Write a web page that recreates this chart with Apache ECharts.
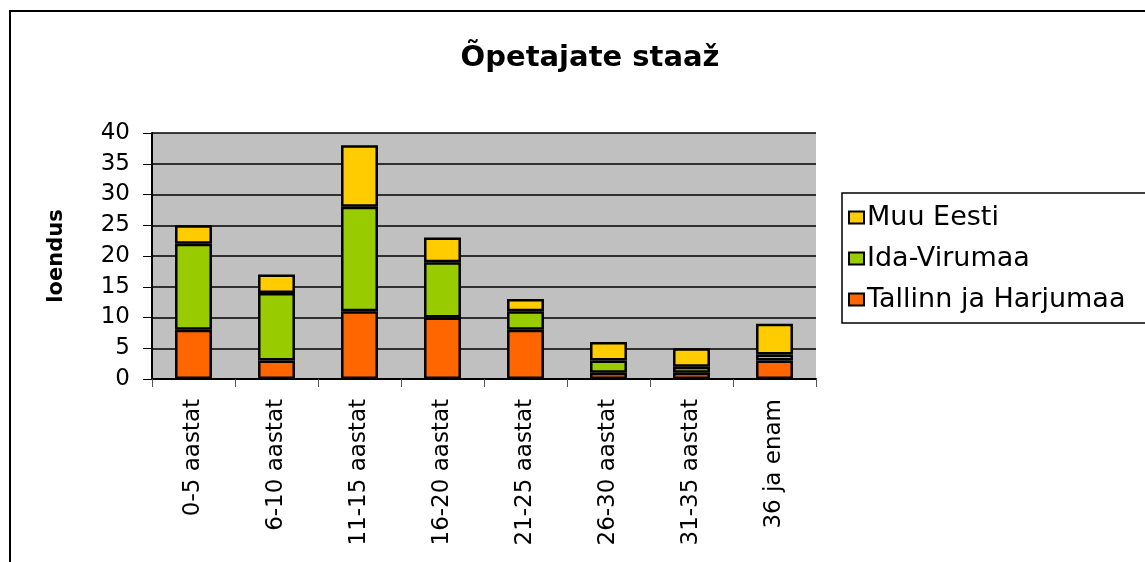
<!DOCTYPE html>
<html>
<head>
<meta charset="utf-8">
<script src="https://cdn.jsdelivr.net/npm/echarts@6/dist/echarts.min.js"></script>
<style>
  html, body { margin: 0; padding: 0; background: #fff; }
  #chart { width: 1145px; height: 562px; }
</style>
</head>
<body>
<div id="chart"></div>
<script>
const categories = ['0-5 aastat', '6-10 aastat', '11-15 aastat', '16-20 aastat', '21-25 aastat', '26-30 aastat', '31-35 aastat', '36 ja enam']
const tallinn = [8, 3, 11, 10, 8, 1, 1, 3]
const idaVirumaa = [14, 11, 17, 9, 3, 2, 1, 1]
const muuEesti = [3, 3, 10, 4, 2, 3, 3, 5]

const font = 'DejaVu Sans, Arial, sans-serif'
const chart = echarts.init(document.getElementById('chart'))

function barSeries(name, data, color) {
  return {
    name: name,
    type: 'bar',
    stack: 'total',
    data: data,
    barWidth: '44.5%',
    itemStyle: { color: color, borderColor: '#000', borderWidth: 2.5 }
  }
}

chart.setOption({
  animation: false,
  textStyle: { fontFamily: font },
  graphic: [{
    type: 'rect',
    shape: { x: 10, y: 11, width: 1200, height: 600 },
    style: { fill: 'none', stroke: '#000', lineWidth: 2 },
    silent: true
  }],
  title: {
    text: 'Õpetajate staaž',
    left: 585,
    top: 39,
    textAlign: 'center',
    textStyle: { fontSize: 29, fontWeight: 'bold', color: '#000', fontFamily: font }
  },
  legend: {
    data: ['Muu Eesti', 'Ida-Virumaa', 'Tallinn ja Harjumaa'],
    orient: 'vertical',
    left: 842,
    top: 193,
    padding: [11, 40, 10, 6],
    itemGap: 14,
    itemWidth: 15,
    itemHeight: 12,
    icon: 'rect',
    borderColor: '#000',
    borderWidth: 1.5,
    textStyle: { fontSize: 27, color: '#000', fontFamily: font, padding: [0, 0, 0, -2] }
  },
  grid: { left: 152, top: 133, right: 329, bottom: 183, backgroundColor: '#c0c0c0', show: true, borderWidth: 0 },
  xAxis: {
    type: 'category',
    data: categories,
    axisLine: { lineStyle: { color: '#000', width: 2 } },
    axisTick: { show: true, length: 8, lineStyle: { color: '#555' } },
    axisLabel: { rotate: 90, fontSize: 23, color: '#000', margin: 20, fontFamily: font }
  },
  yAxis: {
    type: 'value',
    min: 0,
    max: 40,
    interval: 5,
    name: 'loendus',
    nameLocation: 'middle',
    nameGap: 85,
    nameRotate: 90,
    nameTextStyle: { fontSize: 21, fontWeight: 'bold', color: '#000', fontFamily: font },
    axisLine: { show: true, lineStyle: { color: '#000', width: 2 } },
    axisTick: { show: true, length: 9, lineStyle: { color: '#000' } },
    axisLabel: { fontSize: 23, color: '#000', margin: 22, fontFamily: font },
    splitLine: { lineStyle: { color: '#000', width: 1.5 } }
  },
  series: [
    barSeries('Tallinn ja Harjumaa', tallinn, '#ff6600'),
    barSeries('Ida-Virumaa', idaVirumaa, '#99cc00'),
    barSeries('Muu Eesti', muuEesti, '#ffcc00')
  ]
})
</script>
</body>
</html>
